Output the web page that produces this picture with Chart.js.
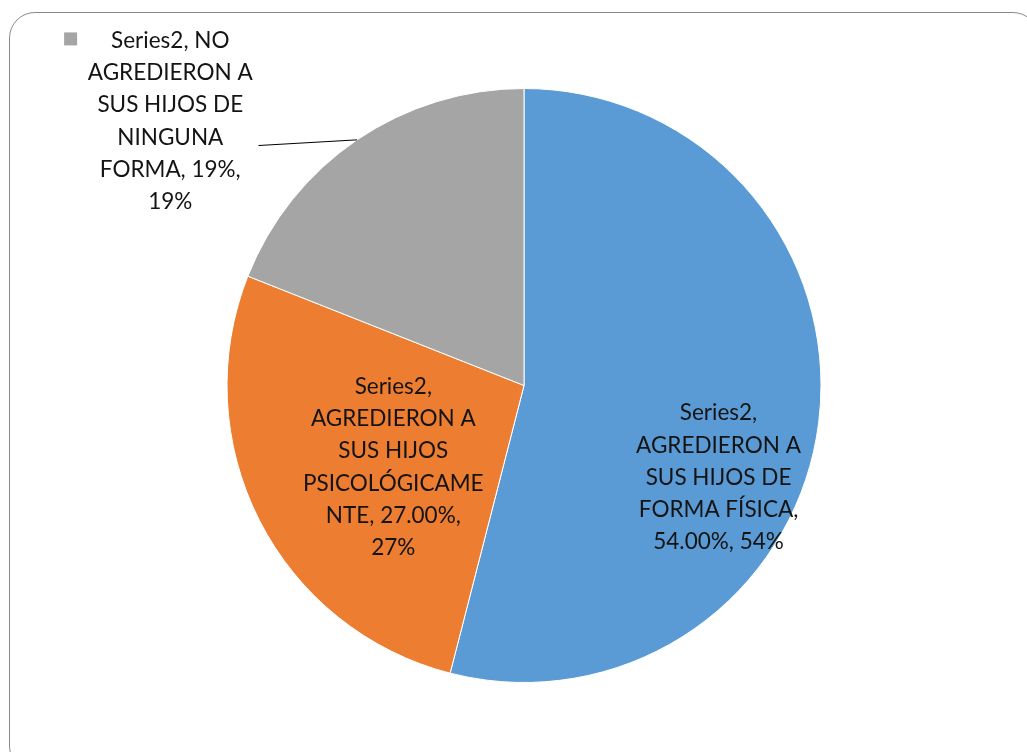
<!DOCTYPE html>
<html>
<head>
<meta charset="utf-8">
<script src="https://cdn.jsdelivr.net/npm/chart.js@4"></script>
<style>
  html, body { margin: 0; padding: 0; background: #fff; }
  #wrap { position: relative; width: 1027px; height: 752px; overflow: hidden; }
  #frame {
    position: absolute; left: 9px; top: 12px; width: 1030px; height: 760px;
    border: 1.5px solid #8a8a8a; border-radius: 26px; box-sizing: border-box;
    pointer-events: none;
  }
  canvas { position: absolute; left: 0; top: 0; }
</style>
</head>
<body>
<div id="wrap">
  <canvas id="chart" width="1027" height="752"></canvas>
  <div id="frame"></div>
</div>
<script>
const seriesName = 'Series2';
const categories = [
  'AGREDIERON A SUS HIJOS DE FORMA FÍSICA',
  'AGREDIERON A SUS HIJOS PSICOLÓGICAMENTE',
  'NO AGREDIERON A SUS HIJOS DE NINGUNA FORMA'
];
const values = [54, 27, 19];
const valueLabels = ['54.00%', '27.00%', '19%'];
const colors = ['#5B9BD5', '#ED7D31', '#A5A5A5'];

// label text as wrapped in the original
const labelLines = [
  ['Series2,', 'AGREDIERON A', 'SUS HIJOS DE', 'FORMA FÍSICA,', '54.00%, 54%'],
  ['Series2,', 'AGREDIERON A', 'SUS HIJOS', 'PSICOLÓGICAME', 'NTE, 27.00%,', '27%'],
  ['Series2, NO', 'AGREDIERON A', 'SUS HIJOS DE', 'NINGUNA', 'FORMA, 19%,', '19%']
];

const pieLabels = {
  id: 'pieLabels',
  afterDatasetsDraw(chart, args, opts) {
    const { ctx } = chart;
    const arcs = chart.getDatasetMeta(0).data;
    ctx.save();
    ctx.font = opts.font;
    ctx.fillStyle = opts.color;
    ctx.textAlign = 'center';
    ctx.textBaseline = 'middle';
    arcs.forEach((arc, i) => {
      const p = opts.place[i];
      const { x, y, outerRadius } = arc.getProps(['x', 'y', 'outerRadius'], true);
      const cx = x + p.dx * outerRadius;
      const cy = y + p.dy * outerRadius;
      const lines = labelLines[i];
      const top = cy - (lines.length - 1) * opts.lineHeight / 2;
      lines.forEach((t, k) => ctx.fillText(t, cx, top + k * opts.lineHeight));
      if (p.leader) {
        // from the label to the middle of the slice edge
        const mid = (arc.startAngle + arc.endAngle) / 2;
        ctx.beginPath();
        ctx.strokeStyle = '#000';
        ctx.lineWidth = 1;
        ctx.moveTo(x + p.leader.dx * outerRadius, y + p.leader.dy * outerRadius);
        ctx.lineTo(x + Math.cos(mid) * outerRadius, y + Math.sin(mid) * outerRadius);
        ctx.stroke();
      }
      if (p.key) {
        const w = ctx.measureText(lines[0]).width;
        ctx.fillStyle = colors[i];
        ctx.fillRect(cx - w / 2 - p.key.gap - 13, top - 8, 13, 13);
        ctx.fillStyle = opts.color;
      }
    });
    ctx.restore();
  }
};

new Chart(document.getElementById('chart'), {
  type: 'pie',
  data: {
    labels: categories.map(c => `${seriesName}, ${c}`),
    datasets: [{
      data: values,
      backgroundColor: colors,
      borderColor: '#ffffff',
      borderWidth: 1
    }]
  },
  options: {
    responsive: false,
    animation: false,
    layout: { padding: { top: 88, bottom: 69, left: 21, right: 0 } },
    plugins: {
      legend: { display: false },
      tooltip: { enabled: false },
      pieLabels: {
        font: '22.5px Lato',
        color: '#141414',
        lineHeight: 32.3,
        place: [
          { dx: 0.655, dy: 0.31 },
          { dx: -0.44, dy: 0.275 },
          { dx: -1.191, dy: -0.89, key: { gap: 34 },
            leader: { dx: -0.894, dy: -0.808 } }
        ]
      }
    }
  },
  plugins: [pieLabels]
});
</script>
</body>
</html>
